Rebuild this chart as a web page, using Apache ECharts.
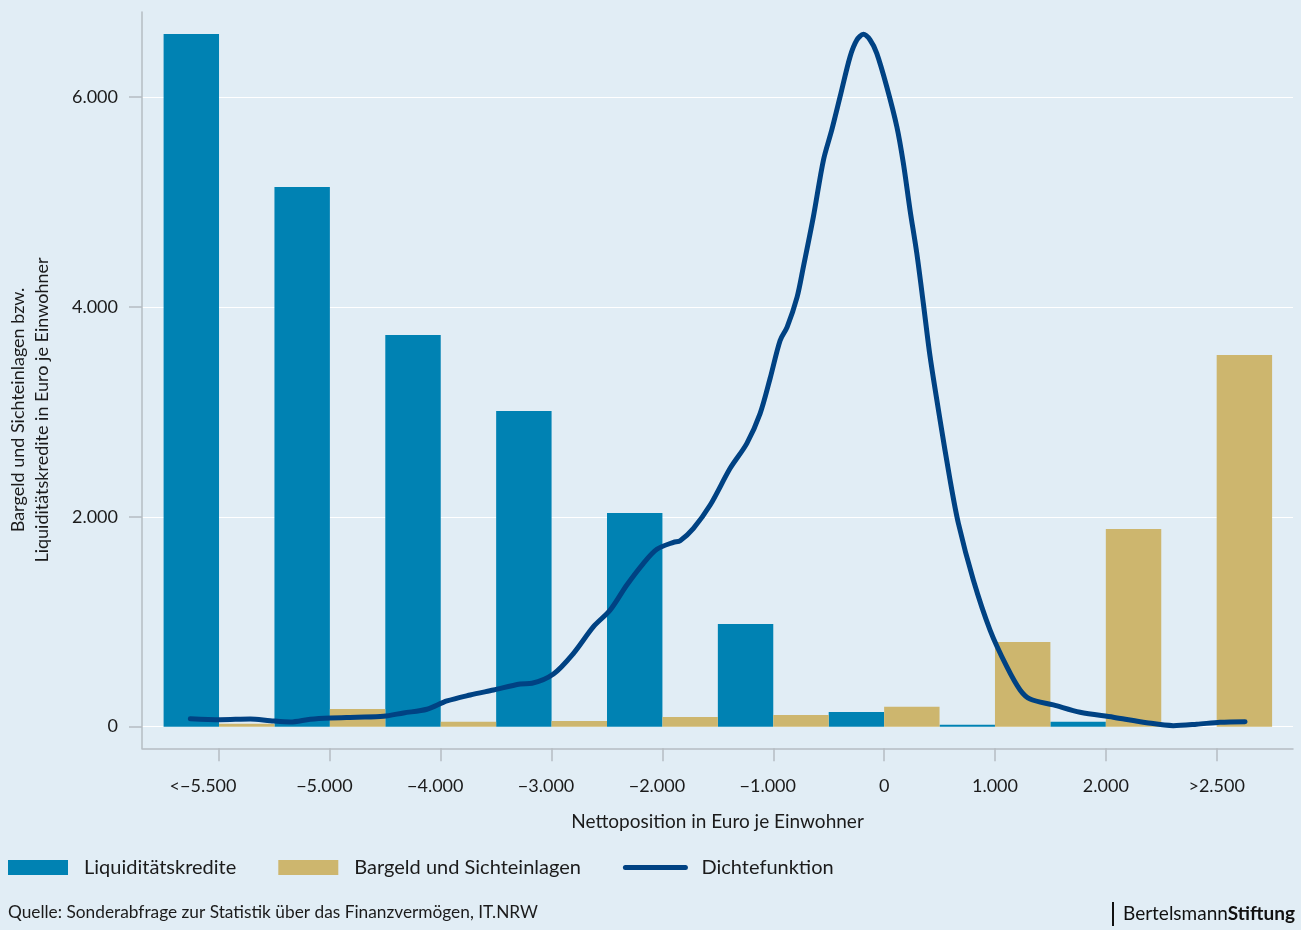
<!DOCTYPE html>
<html>
<head>
<meta charset="utf-8">
<script src="https://cdn.jsdelivr.net/npm/echarts@6/dist/echarts.min.js"></script>
<style>
html,body{margin:0;padding:0;background:#e1edf5;}
#chart{width:1301px;height:930px;}
</style>
</head>
<body>
<div id="chart"></div>
<script>
// ---- data ----
const categories = ['<\u22125.500', '\u22125.000', '\u22124.000', '\u22123.000', '\u22122.000', '\u22121.000', '0', '1.000', '2.000', '>2.500'];
const liquiditaetskredite = [6600, 5142, 3732, 3008, 2036, 979, 140, 18, 48, 0];
const bargeldSichteinlagen = [29, 169, 48, 55, 92, 111, 190, 807, 1884, 3542];
// density function: x on the same linear scale as the category centres (<-5.500 = -6000, >2.500 = 3000)
const densityX = [-6259, -5988, -5718, -5538, -5357, -5177, -4996, -4756, -4516, -4335, -4124, -3944, -3734, -3524, -3283, -3177, -2983, -2802, -2622, -2471, -2321, -2171, -2050, -1900, -1840, -1720, -1569, -1389, -1238, -1118, -1028, -938, -875, -785, -728, -638, -547, -472, -397, -307, -246, -187, -126, -66, 24, 115, 174, 234, 295, 354, 415, 505, 595, 670, 805, 956, 1107, 1227, 1317, 1527, 1768, 2068, 2369, 2609, 2820, 3030, 3256];
const densityY = [76, 67, 73, 57, 45, 71, 83, 90, 99, 131, 166, 245, 302, 350, 407, 414, 502, 699, 953, 1112, 1350, 1557, 1690, 1757, 1772, 1890, 2112, 2462, 2700, 2986, 3320, 3680, 3807, 4093, 4383, 4859, 5400, 5686, 6003, 6384, 6543, 6597, 6543, 6416, 6098, 5717, 5368, 4923, 4511, 4034, 3526, 2922, 2351, 1938, 1398, 921, 572, 350, 264, 207, 137, 90, 38, 10, 23, 42, 48];
const yTicks = [0, 2000, 4000, 6000];
const seriesNames = ['Liquiditätskredite', 'Bargeld und Sichteinlagen', 'Dichtefunktion'];

const FONT = 'Lato';
const TXT = '#1b1b1b';
const AX = '#b5bcc2';
const LINE = '#004283';
const yMin = -206, yMax = 6810;

function fmtDE(v) {
  return String(v).replace(/\B(?=(\d{3})+(?!\d))/g, '.');
}

const chart = echarts.init(document.getElementById('chart'), null, {renderer: 'canvas'});
const option = {
  backgroundColor: '#e1edf5',
  animation: false,
  textStyle: {fontFamily: FONT},
  grid: [
    {left: 142, right: 8, top: 12, bottom: 181.7},
    {left: 163.6, right: 28.9, top: 12, bottom: 181.7}
  ],
  xAxis: [
    {
      type: 'value', gridIndex: 0, min: -6695, max: 3689,
      axisLine: {show: true, onZero: false, lineStyle: {color: AX, width: 1.5}},
      axisTick: {show: false}, axisLabel: {show: false}, splitLine: {show: false},
      name: 'Nettoposition in Euro je Einwohner', nameLocation: 'middle', nameGap: 64,
      nameTextStyle: {fontFamily: FONT, fontSize: 19, color: TXT}
    },
    {
      type: 'category', gridIndex: 1, data: categories,
      axisLine: {show: false, onZero: false},
      axisTick: {show: true, alignWithLabel: true, interval: 0, length: 13, lineStyle: {color: AX, width: 1.5}},
      axisLabel: {
        interval: 0, margin: 29, fontFamily: FONT, fontSize: 18, color: TXT,
        formatter: function (v) {
          if (v.charAt(0) === '<') return '{a|' + v + '}';
          if (v.charAt(0) === '\u2212') return '{b|' + v + '}';
          return v;
        },
        rich: {
          a: {fontFamily: FONT, fontSize: 18, color: TXT, padding: [0, 32, 0, 0]},
          b: {fontFamily: FONT, fontSize: 18, color: TXT, padding: [0, 11, 0, 0]}
        }
      },
      splitLine: {show: false}
    }
  ],
  yAxis: [
    {
      type: 'value', gridIndex: 0, min: yMin, max: yMax,
      axisLine: {show: true, onZero: false, lineStyle: {color: AX, width: 1.5}},
      axisTick: {show: true, length: 13, customValues: yTicks, lineStyle: {color: AX, width: 1.5}},
      axisLabel: {customValues: yTicks, margin: 24, fontFamily: FONT, fontSize: 18, color: TXT, formatter: fmtDE},
      splitLine: {show: true, lineStyle: {color: '#ffffff', width: 1.2}}
    },
    {
      type: 'value', gridIndex: 1, min: yMin, max: yMax, show: false,
      splitLine: {show: false}
    }
  ],
  legend: {
    left: 8, top: 857.5, padding: 0, itemWidth: 60, itemHeight: 15, itemGap: 42,
    data: [
      {name: seriesNames[0], icon: 'rect'},
      {name: seriesNames[1], icon: 'rect'},
      {name: seriesNames[2], itemStyle: {color: 'rgba(0,0,0,0)', borderWidth: 0, opacity: 0}, lineStyle: {width: 5, color: LINE, cap: 'round'}}
    ],
    textStyle: {fontFamily: FONT, fontSize: 20, color: TXT, padding: [0, 0, 0, 11]}
  },
  graphic: [
    {
      type: 'text', left: 8, top: 904,
      style: {text: 'Quelle: Sonderabfrage zur Statistik über das Finanzvermögen, IT.NRW', fontFamily: FONT, fontSize: 17.3, fill: TXT}
    },
    {
      type: 'text', rotation: Math.PI / 2, x: 30.5, y: 410,
      style: {text: 'Bargeld und Sichteinlagen bzw.\nLiquiditätskredite in Euro je Einwohner', fontFamily: FONT, fontSize: 18, lineHeight: 24, fill: TXT, align: 'center', verticalAlign: 'middle'}
    },
    {
      type: 'rect', shape: {x: 1112, y: 902, width: 2, height: 24}, style: {fill: '#111'}
    },
    {
      type: 'text', x: 1123, y: 914,
      style: {
        text: '{a|Bertelsmann}{b|Stiftung}', verticalAlign: 'middle',
        rich: {
          a: {fontFamily: FONT, fontSize: 19, fill: '#111', fontWeight: 'normal'},
          b: {fontFamily: FONT, fontSize: 19, fill: '#111', fontWeight: 'bold'}
        }
      }
    }
  ],
  series: [
    {
      name: seriesNames[0], type: 'bar', xAxisIndex: 1, yAxisIndex: 1,
      data: liquiditaetskredite, barGap: '0%', barCategoryGap: '0%',
      itemStyle: {color: '#0082b3'}, z: 2
    },
    {
      name: seriesNames[1], type: 'bar', xAxisIndex: 1, yAxisIndex: 1,
      data: bargeldSichteinlagen, barGap: '0%', barCategoryGap: '0%',
      itemStyle: {color: '#cdb66e'}, z: 2
    },
    {
      name: seriesNames[2], type: 'line', xAxisIndex: 0, yAxisIndex: 0,
      data: densityX.map((x, i) => [x, densityY[i]]),
      showSymbol: false, symbol: 'none', smooth: 0.3,
      lineStyle: {color: LINE, width: 5, cap: 'round', join: 'round'},
      itemStyle: {color: LINE}, z: 5
    }
  ]
};
chart.setOption(option);
</script>
</body>
</html>
